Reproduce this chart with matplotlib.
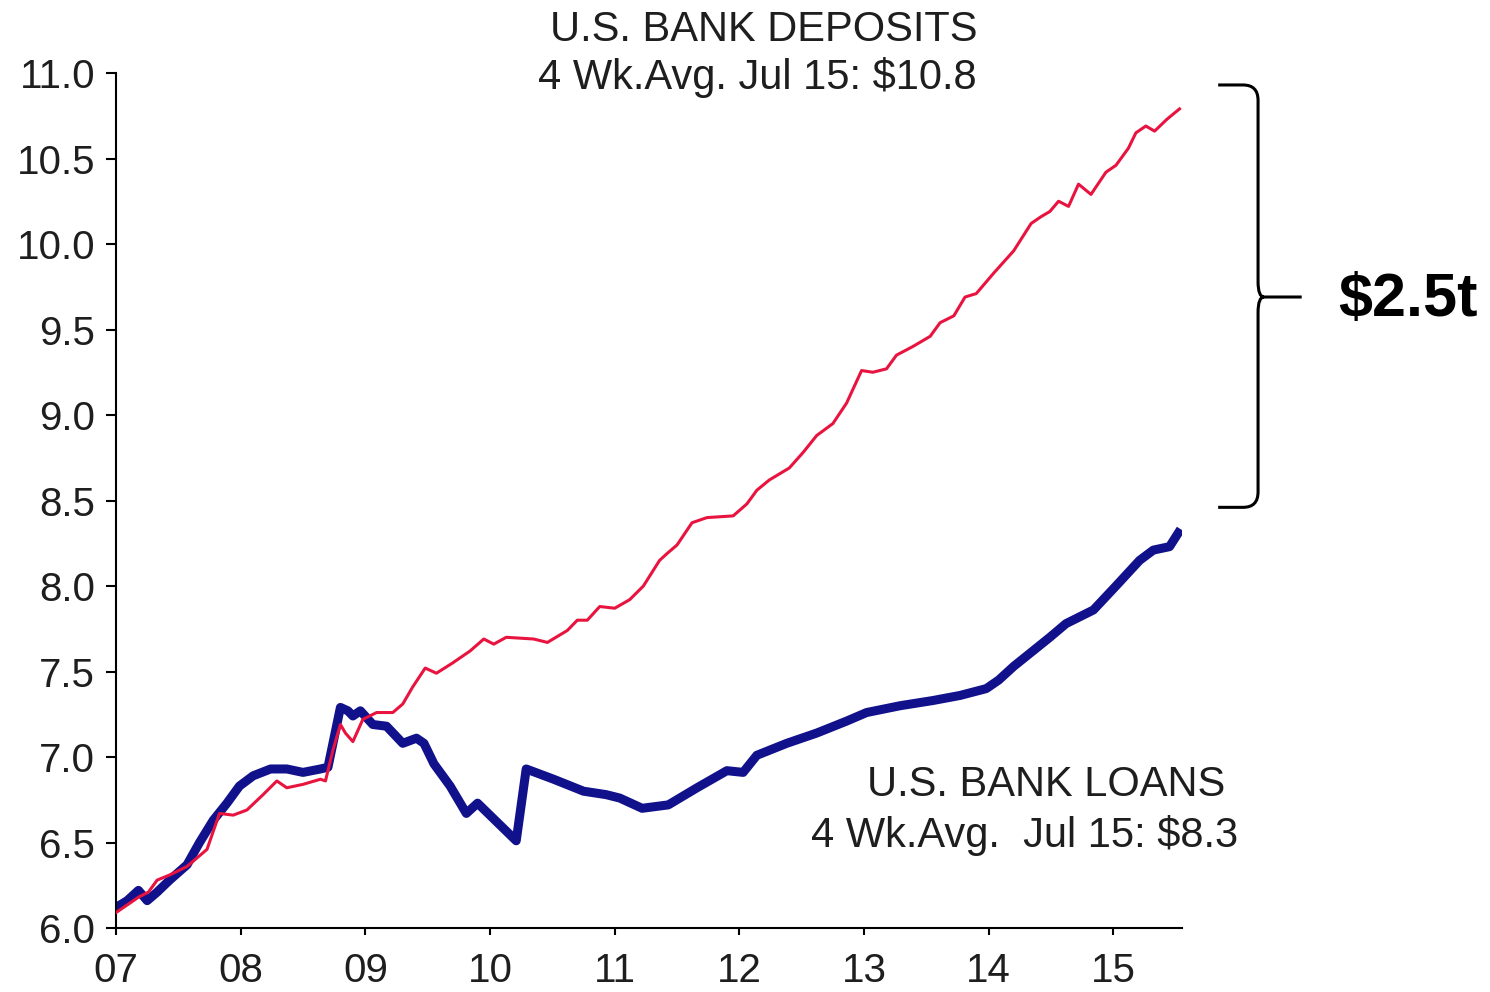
import matplotlib
matplotlib.use("Agg")
import matplotlib.pyplot as plt
from matplotlib.path import Path
from matplotlib.patches import PathPatch

plt.rcParams['font.family'] = ['Liberation Sans', 'DejaVu Sans']

# weekly series, $ trillions, time in decimal years
deposit_t = [2007.00, 2007.10, 2007.18, 2007.26, 2007.33, 2007.43, 2007.57, 2007.73, 2007.83, 2007.94,
             2008.05, 2008.18, 2008.29, 2008.37, 2008.50, 2008.64, 2008.68, 2008.74, 2008.80, 2008.84,
             2008.90, 2008.98, 2009.09, 2009.22, 2009.30, 2009.38, 2009.48, 2009.57, 2009.70, 2009.84,
             2009.95, 2010.03, 2010.13, 2010.35, 2010.46, 2010.62, 2010.70, 2010.78, 2010.88, 2011.00,
             2011.12, 2011.23, 2011.36, 2011.42, 2011.50, 2011.62, 2011.74, 2011.95, 2012.06, 2012.14,
             2012.24, 2012.40, 2012.51, 2012.62, 2012.75, 2012.86, 2012.98, 2013.07, 2013.18, 2013.26,
             2013.39, 2013.53, 2013.61, 2013.72, 2013.81, 2013.90, 2014.04, 2014.20, 2014.34, 2014.42,
             2014.49, 2014.56, 2014.64, 2014.72, 2014.82, 2014.94, 2015.02, 2015.12, 2015.18, 2015.26,
             2015.33, 2015.43, 2015.53]
deposit_v = [6.09, 6.14, 6.18, 6.21, 6.28, 6.31, 6.36, 6.46, 6.67, 6.66,
             6.69, 6.78, 6.86, 6.82, 6.84, 6.87, 6.86, 7.04, 7.19, 7.14,
             7.09, 7.22, 7.26, 7.26, 7.31, 7.41, 7.52, 7.49, 7.55, 7.62,
             7.69, 7.66, 7.70, 7.69, 7.67, 7.74, 7.80, 7.80, 7.88, 7.87,
             7.92, 8.00, 8.15, 8.19, 8.24, 8.37, 8.40, 8.41, 8.48, 8.56,
             8.62, 8.69, 8.78, 8.88, 8.95, 9.07, 9.26, 9.25, 9.27, 9.35,
             9.40, 9.46, 9.54, 9.58, 9.69, 9.71, 9.83, 9.96, 10.12, 10.16,
             10.19, 10.25, 10.22, 10.35, 10.29, 10.42, 10.46, 10.56, 10.65, 10.69,
             10.66, 10.73, 10.79]

loan_t = [2007.00, 2007.09, 2007.18, 2007.25, 2007.33, 2007.43, 2007.57, 2007.67, 2007.78, 2007.89,
          2007.99, 2008.10, 2008.24, 2008.37, 2008.50, 2008.64, 2008.70, 2008.74, 2008.80, 2008.86,
          2008.90, 2008.96, 2009.06, 2009.17, 2009.30, 2009.41, 2009.47, 2009.55, 2009.68, 2009.81,
          2009.90, 2010.21, 2010.29, 2010.51, 2010.75, 2010.93, 2011.04, 2011.22, 2011.43, 2011.66,
          2011.90, 2012.03, 2012.14, 2012.38, 2012.62, 2012.86, 2013.02, 2013.29, 2013.55, 2013.77,
          2013.98, 2014.08, 2014.20, 2014.49, 2014.62, 2014.84, 2015.02, 2015.21, 2015.32, 2015.45,
          2015.52]
loan_v = [6.12, 6.16, 6.22, 6.16, 6.21, 6.28, 6.37, 6.50, 6.63, 6.73,
          6.83, 6.89, 6.93, 6.93, 6.91, 6.93, 6.94, 7.08, 7.29, 7.27,
          7.24, 7.27, 7.19, 7.18, 7.08, 7.11, 7.08, 6.96, 6.83, 6.67,
          6.73, 6.51, 6.93, 6.87, 6.80, 6.78, 6.76, 6.70, 6.72, 6.82,
          6.92, 6.91, 7.01, 7.08, 7.14, 7.21, 7.26, 7.30, 7.33, 7.36,
          7.40, 7.45, 7.53, 7.70, 7.78, 7.86, 8.00, 8.15, 8.21, 8.23,
          8.31]

year_ticks = [2007, 2008, 2009, 2010, 2011, 2012, 2013, 2014, 2015]
year_labels = ['07', '08', '09', '10', '11', '12', '13', '14', '15']
y_ticks = [6.0, 6.5, 7.0, 7.5, 8.0, 8.5, 9.0, 9.5, 10.0, 10.5, 11.0]
y_labels = ['%.1f' % v for v in y_ticks]

W, H = 1490, 992
fig = plt.figure(figsize=(W / 100, H / 100), dpi=100)
ax = fig.add_axes([116 / W, 1 - 928 / H, 1066 / W, (928 - 73) / H])

ax.plot(loan_t, loan_v, color='#11118c', lw=6.5, solid_joinstyle='round', zorder=2)
ax.plot(deposit_t, deposit_v, color='#e8143f', lw=2.2, solid_joinstyle='round', zorder=3)

ax.set_xlim(2007, 2015.55)
ax.set_ylim(6, 11)
ax.set_xticks(year_ticks)
ax.set_xticklabels(year_labels)
ax.set_yticks(y_ticks)
ax.set_yticklabels(y_labels)

for side in ['top', 'right']:
    ax.spines[side].set_visible(False)
for side in ['left', 'bottom']:
    ax.spines[side].set_linewidth(1.5)
ax.tick_params(axis='y', direction='out', length=7, width=1.5, pad=8,
               labelsize=29, labelcolor='#1e1e1e')
ax.tick_params(axis='x', direction='out', length=5, width=1.5, pad=12,
               labelsize=29, labelcolor='#1e1e1e')

# curly bracket showing the gap between the two series
top, bottom, mid = 10.93, 8.46, 9.69
x0, xs, xt = 2015.84, 2016.16, 2016.51
rx, ry = 0.12, 0.09
verts = [(x0, top), (xs - rx, top), (xs, top), (xs, top - ry),
         (xs, mid + ry), (xs, mid), (xs + rx * 0.4, mid), (xt, mid),
         (xs + rx * 0.4, mid), (xs, mid), (xs, mid - ry),
         (xs, bottom + ry), (xs, bottom), (xs - rx, bottom), (x0, bottom)]
codes = [Path.MOVETO, Path.LINETO, Path.CURVE3, Path.CURVE3,
         Path.LINETO, Path.CURVE3, Path.CURVE3, Path.LINETO,
         Path.MOVETO, Path.CURVE3, Path.CURVE3,
         Path.LINETO, Path.CURVE3, Path.CURVE3, Path.LINETO]
ax.add_patch(PathPatch(Path(verts, codes), fill=False, lw=2.2, color='black', clip_on=False))

txt = dict(fontsize=30, color='#1e1e1e', va='center', ha='right')
fig.text(977 / W, 1 - 30 / H, 'U.S. BANK DEPOSITS', **txt)
fig.text(977 / W, 1 - 78 / H, '4 Wk.Avg. Jul 15: $10.8', **txt)
fig.text(1225 / W, 1 - 785 / H, 'U.S. BANK LOANS', **txt)
fig.text(1238 / W, 1 - 835 / H, '4 Wk.Avg.  Jul 15: $8.3', **txt)
fig.text(1338 / W, 1 - 300 / H, '$2.5t', fontsize=44, fontweight='bold',
         color='black', va='center', ha='left')

fig.savefig('out.png', dpi=100)
